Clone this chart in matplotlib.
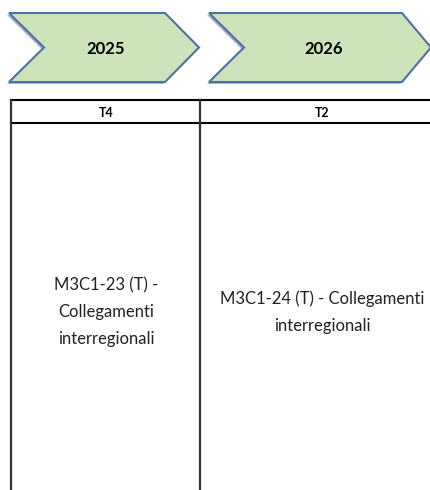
import matplotlib.pyplot as plt
from matplotlib.patches import Polygon

years = ['2025', '2026']
quarters = ['T4', 'T2']
milestones = ['M3C1-23 (T) -\nCollegamenti\ninterregionali',
              'M3C1-24 (T) - Collegamenti\ninterregionali']

fig = plt.figure(figsize=(4.31, 4.90), dpi=100)
ax = fig.add_axes([0, 0, 1, 1])
ax.set_xlim(0, 431)
ax.set_ylim(490, 0)
ax.axis('off')

# chevrons (x start, body width, point depth)
chevrons = [(9, 156, 34), (209, 193, 29)]
notch = 35
top, bot = 13, 82
mid = (top + bot) / 2
for (x0, width, depth), year in zip(chevrons, years):
    pts = [(x0, top), (x0 + width, top), (x0 + width + depth, mid),
           (x0 + width, bot), (x0, bot), (x0 + notch, mid)]
    shadow = Polygon([(px - 2, py + 2) for px, py in pts], closed=True,
                     facecolor='#6f6f6f', edgecolor='none', alpha=0.55)
    ax.add_patch(shadow)
    ax.add_patch(Polygon(pts, closed=True, facecolor='#cde4bb',
                         edgecolor='#4f6fa8', lw=1.5))
    ax.text(x0 + (width + notch) / 2 + 1, mid + 1, year, ha='center', va='center',
            fontsize=12, fontweight='bold', family='Lato')

# table
left, divider, right = 11, 200, 440
ytop, yhead, ybot = 100, 123, 495
ax.plot([left, right], [ytop, ytop], color='black', lw=1.5)
ax.plot([left, right], [yhead, yhead], color='black', lw=1.5)
for xv in [left, divider]:
    ax.plot([xv, xv], [ytop, ybot], color='#333333', lw=1.6)

centers = [106, 322]
for cx, q, m in zip(centers, quarters, milestones):
    ax.text(cx, (ytop + yhead) / 2 + 1, q, ha='center', va='center',
            fontsize=9, fontweight='bold', family='Lato')
    ax.text(cx, 312, m, ha='center', va='center', fontsize=12,
            family='Lato', linespacing=1.85, color='#222222')

fig.savefig('out.png', dpi=100)
